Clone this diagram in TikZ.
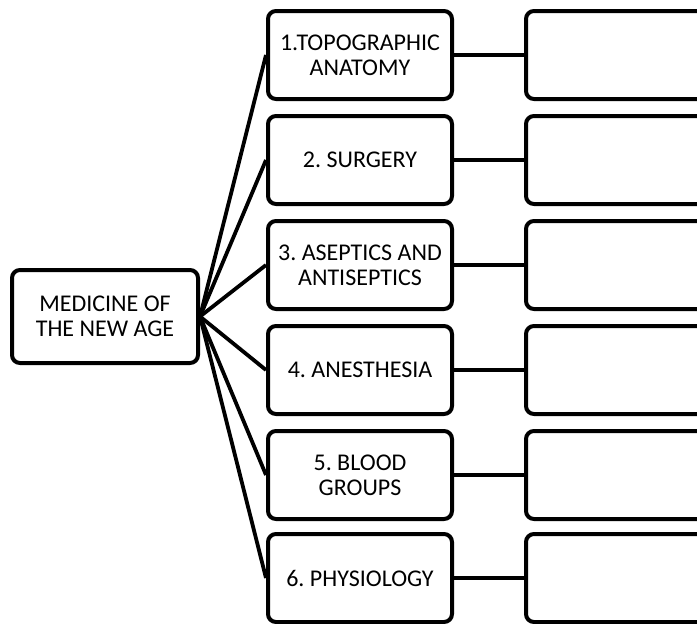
\documentclass[tikz,border=0pt]{standalone}
\usepackage{fontspec}
\setmainfont{Carlito}
\frenchspacing
\begin{document}
\begin{tikzpicture}[x=1pt,y=-1pt,
  box/.style={draw=black, line width=4pt, rounded corners=8pt, fill=white,
    align=center, inner sep=0pt, font=\fontsize{24}{25}\selectfont},
  topic/.style={box, minimum width=184pt, minimum height=88pt},
  blank/.style={box, minimum width=210pt, minimum height=88pt, anchor=west},
  link/.style={line width=3.8pt}]
\useasboundingbox (0,0) rectangle (697,624);

% central node
\node[box, minimum width=186pt, minimum height=93pt] (root) at (105,316.5) {MEDICINE OF\\THE NEW AGE};

% topics
\node[topic] (t1) at (360,55)  {1.TOPOGRAPHIC\\ANATOMY};
\node[topic] (t2) at (360,160) {2. SURGERY};
\node[topic] (t3) at (360,265) {3. ASEPTICS AND\\ANTISEPTICS};
\node[topic] (t4) at (360,370) {4. ANESTHESIA};
\node[topic] (t5) at (360,475) {5. BLOOD\\GROUPS};
\node[topic] (t6) at (360,578) {6. PHYSIOLOGY};

% empty answer boxes, running off the right edge
\foreach \i/\y in {1/55,2/160,3/265,4/370,5/475,6/578}{
  \node[blank] (a\i) at (524,\y) {};
}

% connectors
\foreach \i in {1,...,6}{
  \draw[link] (root.east) -- (t\i.west);
  \draw[link] (t\i.east) -- (a\i.west);
}
\end{tikzpicture}
\end{document}
